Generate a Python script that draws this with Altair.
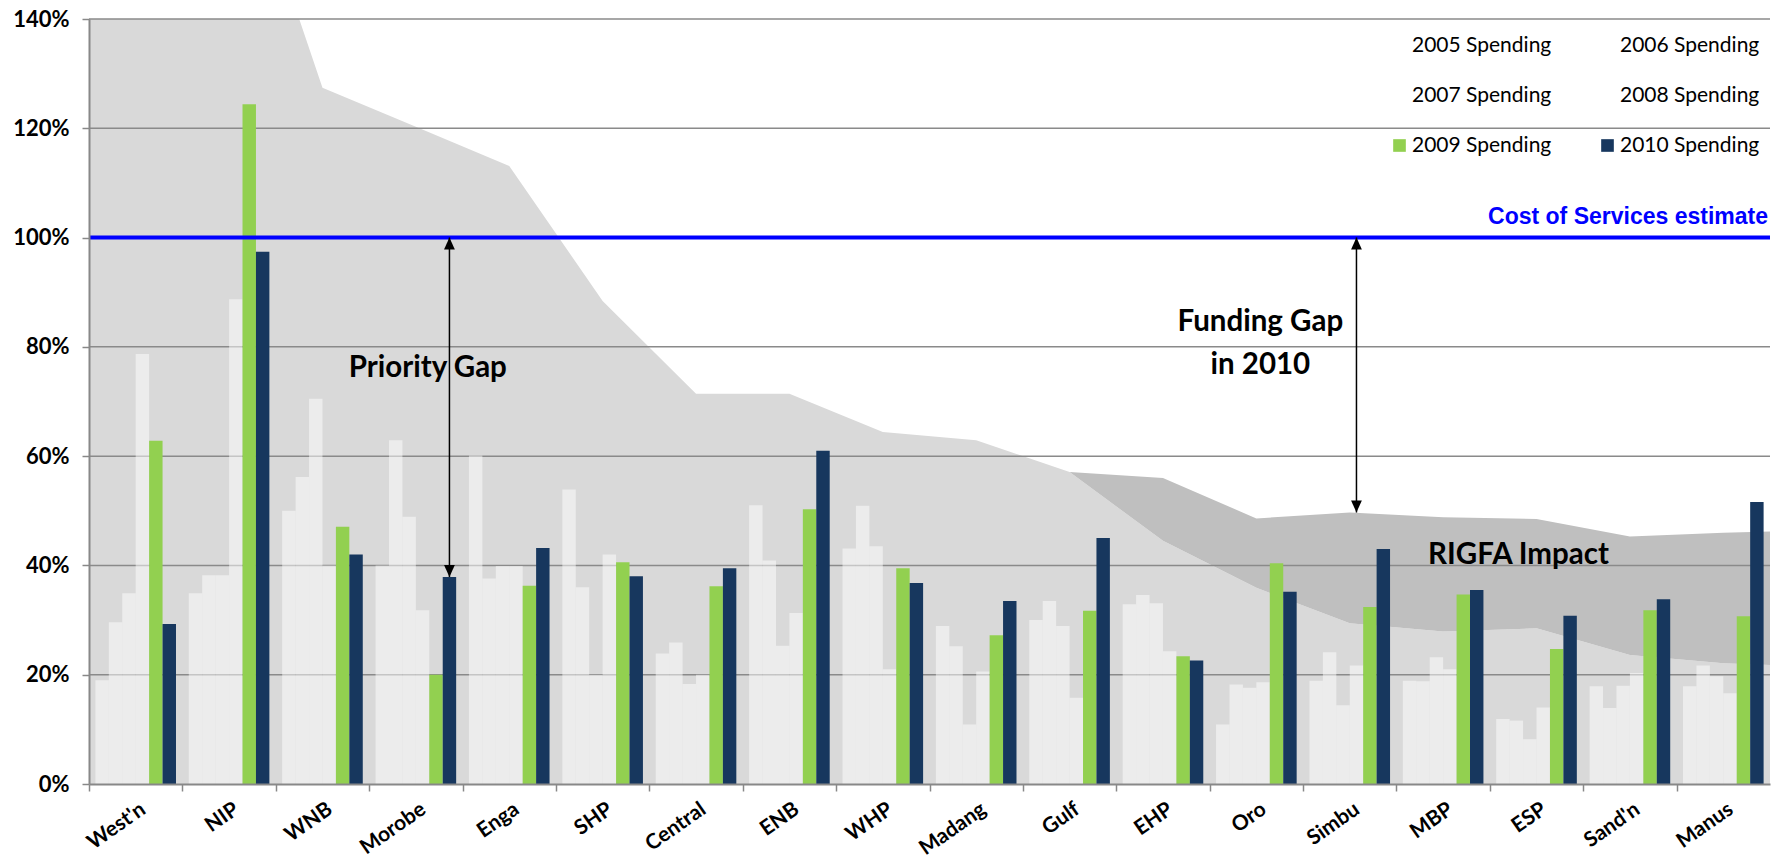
import altair as alt
import pandas as pd

# ---------------- data (values in %) ----------------
provinces = ["West'n", "NIP", "WNB", "Morobe", "Enga", "SHP", "Central", "ENB", "WHP",
             "Madang", "Gulf", "EHP", "Oro", "Simbu", "MBP", "ESP", "Sand'n", "Manus"]
years = ["2005 Spending", "2006 Spending", "2007 Spending",
         "2008 Spending", "2009 Spending", "2010 Spending"]

s2005 = [19.0, 34.9, 50.0, 40.0, 60.1, 53.9, 23.9, 51.0, 43.1, 28.9, 30.0, 32.9, 10.9, 18.9, 18.9, 11.9, 17.9, 17.9]
s2006 = [29.6, 38.2, 56.2, 62.9, 37.6, 36.0, 25.9, 40.9, 50.9, 25.2, 33.5, 34.6, 18.2, 24.1, 18.8, 11.6, 13.9, 21.7]
s2007 = [34.9, 38.2, 70.5, 48.9, 39.9, 20.0, 18.3, 25.3, 43.5, 10.9, 28.9, 33.1, 17.6, 14.4, 23.2, 8.2, 18.0, 19.7]
s2008 = [78.7, 88.7, 40.0, 31.8, 39.9, 42.0, 20.0, 31.3, 21.0, 20.6, 15.8, 24.3, 18.6, 21.7, 21.0, 14.0, 20.3, 16.6]
s2009 = [62.8, 124.4, 47.1, 20.0, 36.3, 40.6, 36.2, 50.3, 39.5, 27.2, 31.7, 23.4, 40.4, 32.4, 34.7, 24.7, 31.8, 30.7]
s2010 = [29.3, 97.4, 42.0, 37.9, 43.2, 38.0, 39.5, 61.0, 36.8, 33.5, 45.0, 22.6, 35.2, 43.0, 35.5, 30.8, 33.8, 51.6]

# background areas (top of light "priority" area, top of dark RIGFA band)
priority_top = [190, 178, 127.4, 120.3, 113.1, 88.4, 71.4, 71.4, 64.4, 62.9, 57.1, 44.5, 35.9, 29.4, 27.9, 28.5, 23.6, 22.1]
rigfa_top = [None] * 10 + [57.1, 56.0, 48.6, 49.7, 48.8, 48.5, 45.3, 46.0]
edge_priority = [190, 21.8]     # values at left / right plot edges
edge_rigfa = [None, 46.2]

cost_estimate = [100.0]
grid_values = [20, 40, 60, 80, 100, 120, 140]
y_ticks = [0, 20, 40, 60, 80, 100, 120, 140]

# ---------------- layout ----------------
W = 1681
H = 765
STEP = W / len(provinces)

series = [s2005, s2006, s2007, s2008, s2009, s2010]
rows = []
for i, p in enumerate(provinces):
    for yname, vals in zip(years, series):
        rows.append({"province": p, "year": yname, "value": vals[i] / 100})
bars_df = pd.DataFrame(rows)

pos = [-0.5] + list(range(len(provinces))) + [len(provinces) - 0.5]
pr = [edge_priority[0]] + priority_top + [edge_priority[1]]
rg = [edge_rigfa[0]] + rigfa_top + [edge_rigfa[1]]
area_df = pd.DataFrame({
    "pos": pos,
    "priority": [v / 100 for v in pr],
    "rigfa": [None if v is None else v / 100 for v in rg],
})

FONT = "Lato"

xscale = alt.Scale(domain=provinces, paddingInner=0, paddingOuter=0)
xoff_scale = alt.Scale(domain=years, paddingInner=0, paddingOuter=0.476)
yscale = alt.Scale(domain=[0, 1.4], nice=False, zero=True)
yaxis = alt.Axis(title=None, values=[t / 100 for t in y_ticks], format=".0%", grid=False,
                 labelFont=FONT, labelFontWeight="bold", labelFontSize=22, labelColor="#000000",
                 labelPadding=13, tickSize=7, tickColor="#888888", tickWidth=1.5,
                 domainColor="#888888", domainWidth=2, zindex=1)
area_x = alt.X("pos:Q", scale=alt.Scale(domain=[-0.5, len(provinces) - 0.5], nice=False, zero=False), axis=None)


def Y(field):
    return alt.Y(field, scale=yscale, axis=yaxis)


light_area = alt.Chart(area_df).mark_area(color="#d9d9d9", clip=True).encode(
    x=area_x, y=Y("priority:Q"),
)
rigfa_area = alt.Chart(area_df).mark_area(color="#bfbfbf", clip=True).encode(
    x=area_x, y=Y("rigfa:Q"), y2="priority:Q",
)

grid_df = pd.DataFrame({"v": [g / 100 for g in grid_values]})
grid = alt.Chart(grid_df).mark_rule(color="#8a8a8a", strokeWidth=1.5).encode(y=Y("v:Q"))

color_scale = alt.Scale(
    domain=years,
    range=["rgba(255,255,255,0.5)"] * 4 + ["#92d050", "#17375e"],
)

bars = alt.Chart(bars_df).mark_bar(strokeWidth=0).encode(
    x=alt.X("province:N", scale=xscale, sort=provinces,
            axis=alt.Axis(title=None, labelAngle=-35, labelAlign="right", labelBaseline="top",
                          labelFont=FONT, labelFontWeight="bold", labelFontSize=21, labelColor="#000000",
                          labelPadding=7, tickOffset=-STEP / 2, labelOffset=STEP / 2 + 1,
                          tickSize=7, tickColor="#888888", tickWidth=1.5,
                          domainColor="#888888", domainWidth=2, zindex=1, labelOverlap=False)),
    xOffset=alt.XOffset("year:N", scale=xoff_scale, sort=years),
    y=Y("value:Q"),
    color=alt.Color("year:N", scale=color_scale, sort=years,
                    legend=alt.Legend(title=None, orient="none", legendX=1300, legendY=16, columns=2,
                                      direction="horizontal",
                                      columnPadding=45, rowPadding=28, padding=0,
                                      symbolType="square", symbolSize=160, symbolStrokeWidth=0,
                                      labelFont=FONT, labelFontSize=21, labelColor="#000000",
                                      labelLimit=300, labelOffset=2)),
)

cost_df = pd.DataFrame({"v": [c / 100 for c in cost_estimate], "province": ["Manus"],
                        "label": ["Cost of Services estimate"]})
blue_line = alt.Chart(cost_df).mark_rule(color="#0000ff", strokeWidth=4).encode(y=Y("v:Q"))
blue_text = alt.Chart(cost_df).mark_text(
    font="Liberation Sans", fontWeight="bold", fontSize=23, color="#0000ff",
    align="right", baseline="alphabetic", dx=STEP / 2 - 2, dy=-14,
).encode(
    x=alt.X("province:N", scale=xscale, axis=None),
    y=Y("v:Q"),
    text="label:N",
)

arrows_df = pd.DataFrame({
    "province": ["Morobe", "Simbu"],
    "year": ["2010 Spending", "2008 Spending"],
    "top": [cost_estimate[0] / 100] * 2,
    "bottom": [s2010[provinces.index("Morobe")] / 100, rigfa_top[provinces.index("Simbu")] / 100],
})
ax = alt.X("province:N", scale=xscale, axis=None)
axo = alt.XOffset("year:N", scale=xoff_scale, sort=years)
arrow_lines = alt.Chart(arrows_df).mark_rule(color="black", strokeWidth=1.5).encode(
    x=ax, xOffset=axo, y=Y("top:Q"), y2="bottom:Q",
)
head_up = alt.Chart(arrows_df).mark_point(
    shape="M0,0L-0.45,1L0.45,1Z", filled=True, color="black", size=576, opacity=1, strokeWidth=0
).encode(x=ax, xOffset=axo, y=Y("top:Q"))
head_down = alt.Chart(arrows_df).mark_point(
    shape="M0,0L-0.45,-1L0.45,-1Z", filled=True, color="black", size=576, opacity=1, strokeWidth=0
).encode(x=ax, xOffset=axo, y=Y("bottom:Q"))


def note(province, value, text, dx=0, line_height=43):
    df = pd.DataFrame({"province": [province], "v": [value], "t": [text]})
    return alt.Chart(df).mark_text(
        font=FONT, fontWeight="bold", fontSize=29.5, color="black",
        align="center", baseline="middle", dx=dx, lineBreak="\n", lineHeight=line_height,
    ).encode(
        x=alt.X("province:N", scale=xscale, axis=None),
        y=Y("v:Q"),
        text="t:N",
    )


priority_note = note("Morobe", 0.761, "Priority Gap", dx=12)
funding_note = note("Oro", 0.846, "Funding Gap\nin 2010", dx=4)
rigfa_note = note("ESP", 0.420, "RIGFA Impact", dx=-18)

chart = alt.layer(
    light_area, rigfa_area, grid, bars, blue_line, blue_text,
    arrow_lines, head_up, head_down, priority_note, funding_note, rigfa_note,
).resolve_scale(x="independent").properties(
    width=W, height=H,
    autosize=alt.AutoSizeParams(type="none"),
    padding={"left": 81, "top": 11, "right": 3, "bottom": 76},
    background="white",
).configure_view(stroke=None)

chart.save("out.html", embed_options={"renderer": "svg", "actions": False})
